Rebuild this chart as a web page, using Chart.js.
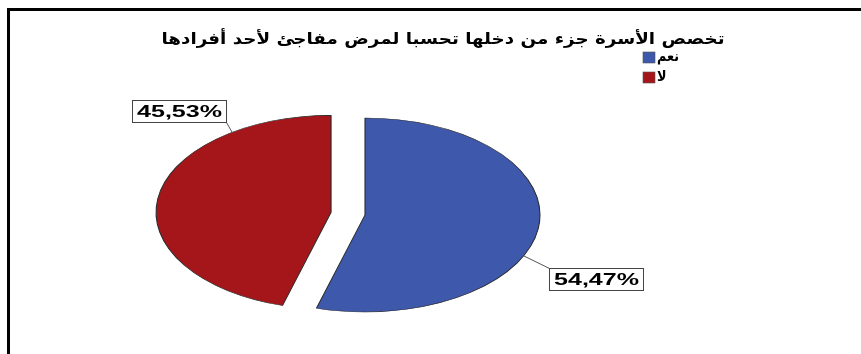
<!DOCTYPE html>
<html>
<head>
<meta charset="utf-8">
<script src="https://cdn.jsdelivr.net/npm/chart.js@4.4.0/dist/chart.umd.min.js"></script>
<style>
    html, body { margin: 0; padding: 0; background: #fff; overflow: hidden; }
    #wrap { position: relative; width: 861px; height: 354px; }
    #wrap canvas { position: absolute; left: 0; top: 0; }
    #frame { position: absolute; left: 7px; top: 8px; right: 0; bottom: 0;
             border-left: 3px solid #000; border-top: 3px solid #000; }
</style>
</head>
<body>
<div id="wrap">
    <canvas id="pieChart" width="861" height="354"></canvas>
    <div id="frame"></div>
</div>
<script>
var labels = ['نعم', 'لا'];
var percents = [54.47, 45.53];
var colors = ['#3E58AC', '#A5161B'];
var titleText = 'تخصص الأسرة جزء من دخلها تحسبا لمرض مفاجئ لأحد أفرادها';

// the source picture is stretched sideways, so the pie is an ellipse
var stretchX = 1.804;
// how far each slice is pulled out of the pie (px, before stretching)
var explode = [0, 19];
// where the value boxes sit: f = point along the slice edge, dx/dy = box centre from it
var labelSpots = [
    {f: 0.586, dx: 72, dy: 23},
    {f: 0.79, dx: -53, dy: -21}
];

function pieCenterX(chart) {
    return (chart.chartArea.left + chart.chartArea.right) / 2;
}

function edgePoint(arc, cx, f) {
    var a = arc.startAngle + f * (arc.endAngle - arc.startAngle);
    var r = arc.outerRadius;
    return {
        x: cx + (arc.x + r * Math.cos(a) - cx) * stretchX,
        y: arc.y + r * Math.sin(a)
    };
}

// draw text squeezed/stretched to a given width
function fitText(ctx, txt, x, y, width) {
    var w = ctx.measureText(txt).width;
    ctx.save();
    ctx.translate(x, y);
    ctx.scale(width / w, 1);
    ctx.fillText(txt, 0, 0);
    ctx.restore();
}

var pieLook = {
    id: 'pieLook',
    afterDatasetsUpdate: function (chart) {
        var arcs = chart.getDatasetMeta(0).data;
        arcs.forEach(function (arc, i) {
            if (!explode[i]) return;
            var mid = (arc.startAngle + arc.endAngle) / 2;
            arc.x += Math.cos(mid) * explode[i];
            arc.y += Math.sin(mid) * explode[i];
        });
    },
    beforeDatasetsDraw: function (chart) {
        var ctx = chart.ctx, cx = pieCenterX(chart);
        ctx.save();
        ctx.translate(cx, 0);
        ctx.scale(stretchX, 1);
        ctx.translate(-cx, 0);
    },
    afterDatasetsDraw: function (chart) {
        chart.ctx.restore();
    },
    afterDraw: function (chart) {
        var ctx = chart.ctx, cx = pieCenterX(chart);
        var arcs = chart.getDatasetMeta(0).data;

        // title
        ctx.save();
        ctx.fillStyle = '#000';
        ctx.textAlign = 'center';
        ctx.textBaseline = 'middle';
        ctx.font = 'bold 16px "DejaVu Sans"';
        fitText(ctx, titleText, 443, 40, 563);

        // legend
        ctx.textAlign = 'left';
        ctx.font = 'bold 15px "DejaVu Sans"';
        labels.forEach(function (lab, i) {
            var y = 52 + i * 20;
            ctx.fillStyle = colors[i];
            ctx.fillRect(643, y, 12, 11);
            ctx.strokeStyle = '#555';
            ctx.lineWidth = 0.6;
            ctx.strokeRect(643, y, 12, 11);
            ctx.fillStyle = '#000';
            fitText(ctx, lab, 657, y + 5, ctx.measureText(lab).width * 0.85);
        });

        // value boxes with leader lines
        ctx.font = 'bold 17px "Liberation Sans", Arial';
        ctx.textAlign = 'center';
        arcs.forEach(function (arc, i) {
            var spot = labelSpots[i];
            var p = edgePoint(arc, cx, spot.f);
            var bw = 94, bh = 22;
            var bx = Math.round(p.x + spot.dx - bw / 2) + 0.5;
            var by = Math.round(p.y + spot.dy - bh / 2) + 0.5;
            var cornerX = spot.dx > 0 ? bx : bx + bw;
            var cornerY = spot.dy > 0 ? by : by + bh;
            ctx.strokeStyle = '#555';
            ctx.lineWidth = 1;
            ctx.beginPath();
            ctx.moveTo(p.x, p.y);
            ctx.lineTo(cornerX, cornerY);
            ctx.stroke();
            ctx.fillStyle = '#fff';
            ctx.fillRect(bx, by, bw, bh);
            ctx.strokeStyle = '#444';
            ctx.strokeRect(bx, by, bw, bh);
            ctx.fillStyle = '#000';
            var txt = percents[i].toFixed(2).replace('.', ',') + '%';
            fitText(ctx, txt, bx + bw / 2, by + bh / 2 + 1, 85);
        });
        ctx.restore();
    }
};

var ctx = document.getElementById('pieChart').getContext('2d');
var pieChart = new Chart(ctx, {
    type: 'pie',
    data: {
        labels: labels,
        datasets: [{
            data: percents,
            backgroundColor: colors,
            borderColor: '#2a2a2a',
            borderWidth: 0.6,
            radius: 97,
            clip: false
        }]
    },
    options: {
        responsive: false,
        animation: false,
        events: [],
        layout: {padding: {left: 0, right: 131, top: 76, bottom: 0}},
        plugins: {
            legend: {display: false},
            title: {display: false},
            tooltip: {enabled: false}
        }
    },
    plugins: [pieLook]
});
</script>
</body>
</html>
